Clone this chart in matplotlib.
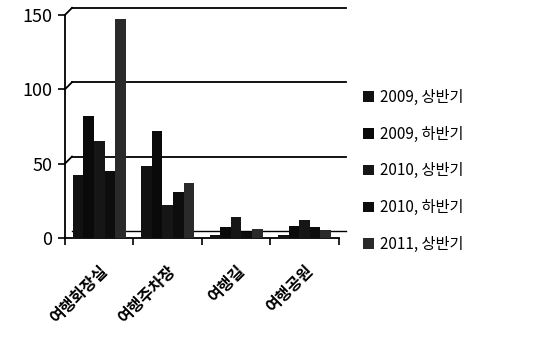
import numpy as np
import matplotlib.pyplot as plt
import matplotlib.transforms as mtransforms

plt.rcParams['font.family'] = ['Noto Sans CJK KR', 'DejaVu Sans']

places = ['여행화장실', '여행주차장', '여행길', '여행공원']
periods = ['2009, 상반기', '2009, 하반기', '2010, 상반기', '2010, 하반기', '2011, 상반기']

# counts per place, one list per period
h09_1 = [42, 48, 2, 2]
h09_2 = [82, 72, 7, 8]
h10_1 = [65, 22, 14, 12]
h10_2 = [45, 31, 4, 7]
h11_1 = [147, 37, 6, 5]
series = [h09_1, h09_2, h10_1, h10_2, h11_1]
colors = ['#111111', '#0a0a0a', '#161616', '#0d0d0d', '#2a2a2a']

fig = plt.figure(figsize=(5.42, 3.62), dpi=100)
ax = fig.add_axes([0.12, 0.343, 0.505, 0.616])

x = np.arange(len(places))
w = 0.155
for i, (vals, c) in enumerate(zip(series, colors)):
    ax.bar(x + (i - 2) * w, vals, w, color=c, label=periods[i], zorder=3)

ax.set_xlim(-0.5, len(places) - 0.5)
ax.set_ylim(0, 150)
ax.set_yticks([0, 50, 100, 150])
ax.tick_params(axis='y', labelsize=13, length=5, width=1.2, pad=4)

# group separators on the x axis, category names between them
ax.set_xticks(np.arange(len(places) + 1) - 0.5)
ax.set_xticklabels([])
ax.tick_params(axis='x', length=5, width=1.2, direction='out')
ax.set_xticks(x, minor=True)
ax.set_xticklabels(places, minor=True, rotation=45, ha='right',
                   rotation_mode='anchor', fontsize=11.5, fontweight='bold')
ax.tick_params(axis='x', which='minor', length=0, pad=18)

# back-wall gridlines, shifted a little up and right for a shallow depth look
back = ax.transData + mtransforms.ScaledTranslation(7 / 100, 7 / 100, fig.dpi_scale_trans)
x_end = len(places) - 0.5
for v in [50, 100, 150]:
    ax.plot([-0.5, x_end], [v, v], color='black', lw=1.3,
            transform=back, clip_on=False, zorder=1)
    x0, y0 = ax.transData.transform((-0.5, v))
    x1, y1 = back.transform((-0.5, v))
    fig.add_artist(plt.Line2D([x0 / fig.bbox.width, x1 / fig.bbox.width],
                              [y0 / fig.bbox.height, y1 / fig.bbox.height],
                              color='black', lw=1.3))
# floor edge behind the bars
ax.plot([-0.5, x_end], [0, 0], color='black', lw=1.0,
        transform=back, clip_on=False, zorder=1)

for s in ['top', 'right']:
    ax.spines[s].set_visible(False)
for s in ['left', 'bottom']:
    ax.spines[s].set_linewidth(1.3)

ax.legend(loc='center left', bbox_to_anchor=(1.04, 0.3), frameon=False,
          fontsize=11, handlelength=0.7, handleheight=0.7,
          handletextpad=0.4, labelspacing=1.3)

fig.savefig('out.png', dpi=100)
